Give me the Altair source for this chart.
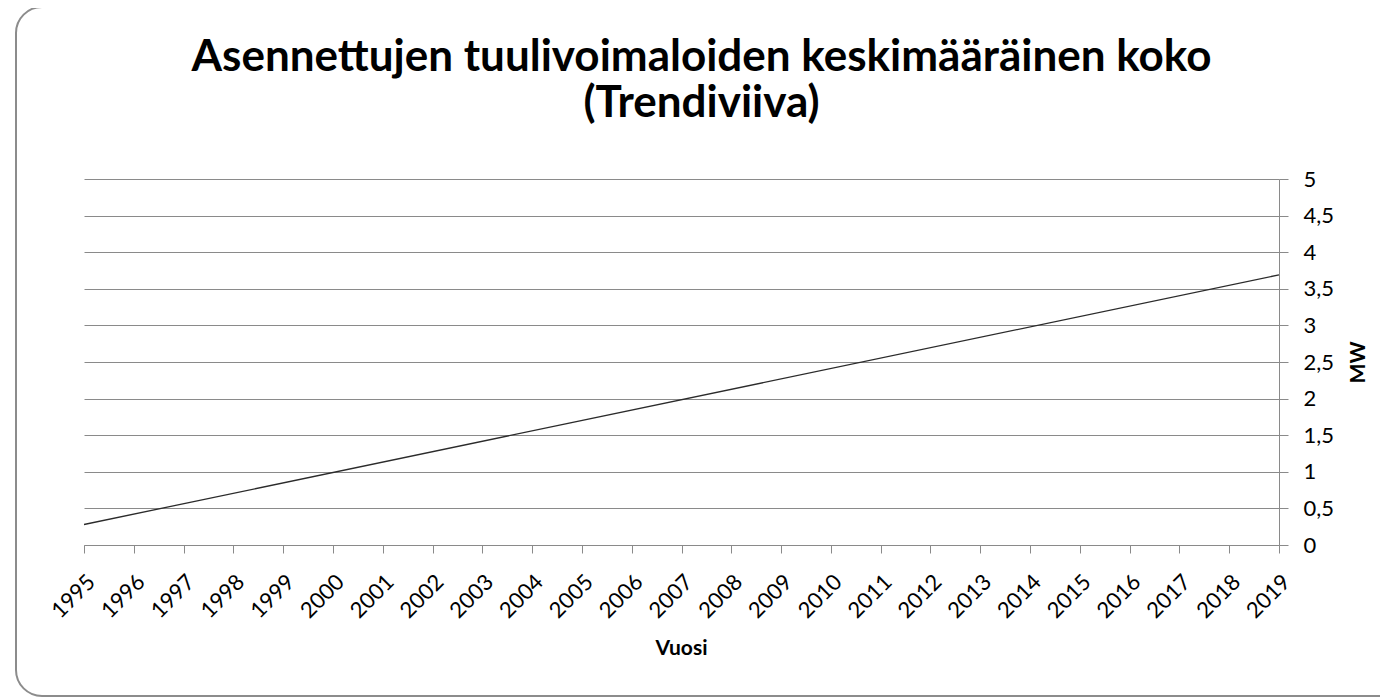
import altair as alt
import pandas as pd

years = [str(y) for y in range(1995, 2020)]
trend_years = ["1995", "2019"]
trend_mw = [0.28, 3.69]
y_ticks = [0, 0.5, 1, 1.5, 2, 2.5, 3, 3.5, 4, 4.5, 5]

title_lines = ["Asennettujen tuulivoimaloiden keskimääräinen koko", "(Trendiviiva)"]
x_title = "Vuosi"
y_title = "MW"

df = pd.DataFrame({"Vuosi": trend_years, "MW": trend_mw})
frame_df = pd.DataFrame({"k": [0]})

FONT = "Lato"
GRID = "#8a8a8a"

x_enc = alt.X(
    "Vuosi:O",
    scale=alt.Scale(type="point", domain=years, padding=0),
    axis=alt.Axis(
        title=x_title,
        labelAngle=-45,
        labelFont=FONT,
        labelFontSize=22,
        labelColor="#000000",
        labelPadding=18,
        titleFont=FONT,
        titleFontSize=21,
        titleFontWeight="bold",
        titleColor="#000000",
        titleX=597,
        titleY=103,
        titleAlign="center",
        titleBaseline="middle",
        domainColor=GRID,
        tickColor=GRID,
        tickSize=8,
        grid=False,
    ),
)
y_enc = alt.Y(
    "MW:Q",
    scale=alt.Scale(domain=[0, 5], nice=False),
    axis=alt.Axis(
        title=y_title,
        orient="right",
        values=y_ticks,
        labelExpr="replace(format(datum.value, '.1~f'), '.', ',')",
        labelFont=FONT,
        labelFontSize=22,
        labelColor="#000000",
        labelPadding=15,
        titleFont=FONT,
        titleFontSize=21,
        titleFontWeight="bold",
        titleColor="#000000",
        titleAngle=270,
        titleX=79,
        titleY=183,
        titleAlign="center",
        titleBaseline="middle",
        domainColor=GRID,
        tickColor=GRID,
        tickSize=9,
        grid=True,
        gridColor=GRID,
        gridWidth=1,
    ),
)

line = alt.Chart(df).mark_line(color="#2b2b2b", strokeWidth=1.3).encode(x=x_enc, y=y_enc)

frame = alt.Chart(frame_df).mark_rect(
    fill="transparent", stroke="#8c8c8c", strokeWidth=2, cornerRadius=26
).encode(
    x=alt.value(-68), x2=alt.value(1340), y=alt.value(-172), y2=alt.value(517)
)

chart = alt.layer(frame, line).properties(
    width=1195,
    height=366,
    title=alt.TitleParams(
        title_lines,
        font=FONT,
        fontSize=44,
        fontWeight="bold",
        color="#000000",
        anchor="middle",
        frame="group",
        dx=20,
        offset=-120,
        lineHeight=46,
    ),
    autosize=alt.AutoSizeParams(type="none"),
    padding={"left": 76, "top": 171, "right": 101, "bottom": 153},
).configure_view(stroke=None)

chart.save("out.html", embed_options={"renderer": "svg", "actions": False})
